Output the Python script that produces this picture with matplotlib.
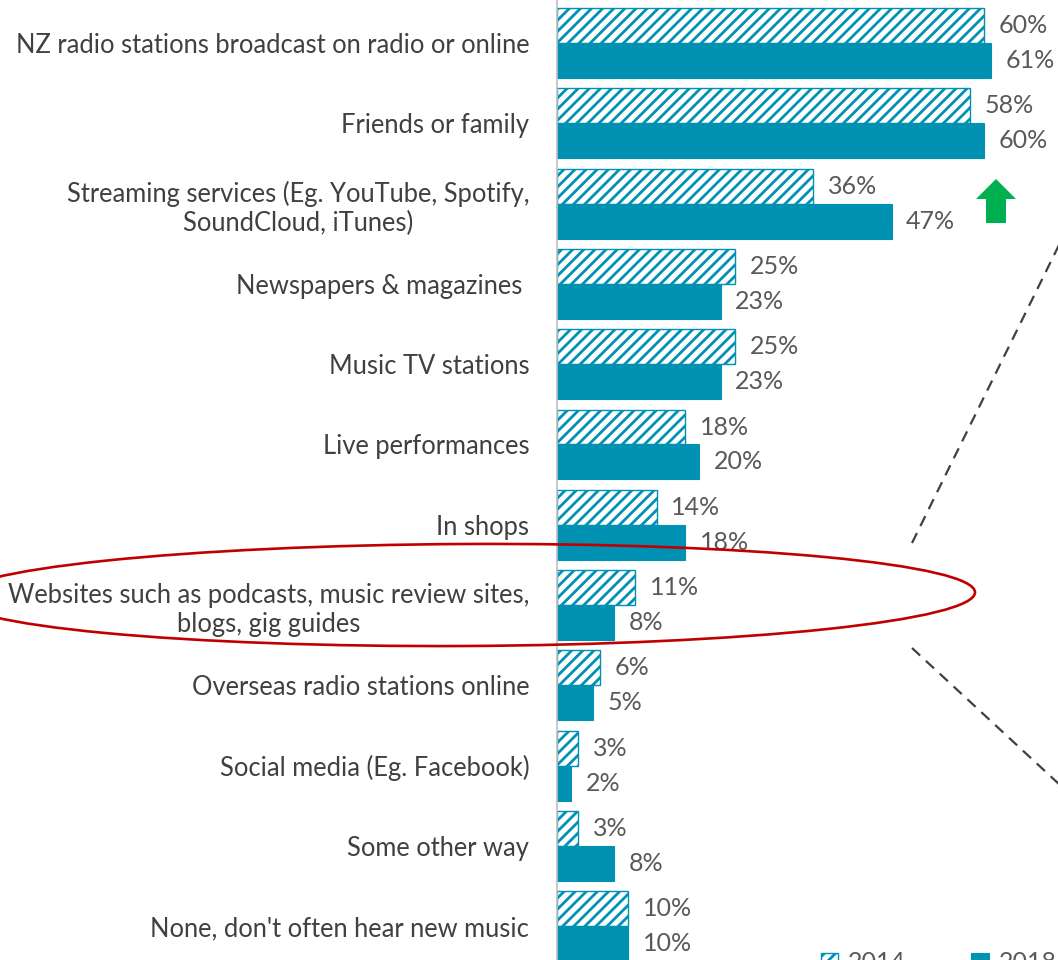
import matplotlib
matplotlib.use("Agg")
import matplotlib.pyplot as plt
from matplotlib.patches import Ellipse, Polygon
from matplotlib.transforms import IdentityTransform
from matplotlib.lines import Line2D

categories = [
    "NZ radio stations broadcast on radio or online",
    "Friends or family",
    "Streaming services (Eg. YouTube, Spotify,\nSoundCloud, iTunes)",
    "Newspapers & magazines ",
    "Music TV stations",
    "Live performances",
    "In shops",
    "Websites such as podcasts, music review sites,\nblogs, gig guides",
    "Overseas radio stations online",
    "Social media (Eg. Facebook)",
    "Some other way",
    "None, don't often hear new music",
]
values_2014 = [60, 58, 36, 25, 25, 18, 14, 11, 6, 3, 3, 10]
values_2018 = [61, 60, 47, 23, 23, 20, 18, 8, 5, 2, 8, 10]
series_names = ["2014", "2018"]

TEAL = "#0091B3"
plt.rcParams["font.family"] = ["Lato", "DejaVu Sans"]
plt.rcParams["hatch.linewidth"] = 2.0
plt.rcParams["hatch.color"] = TEAL

W, H = 1058, 960
fig = plt.figure(figsize=(W / 100, H / 100), dpi=100)
ax = fig.add_axes([557 / W, 0, 1 - 557 / W, 1])

n = len(categories)
y = list(range(n))
bh = 0.435
b1 = ax.barh([v - bh / 2 for v in y], values_2014, height=bh, color="white",
             edgecolor=TEAL, hatch="///", linewidth=1.0, label=series_names[0])
b2 = ax.barh([v + bh / 2 for v in y], values_2018, height=bh, color=TEAL,
             edgecolor=TEAL, linewidth=0.8, label=series_names[1])

ax.set_xlim(0, 501 / 7.12)
ax.set_ylim((H - 43) / 80.3, -43 / 80.3)

for bars, vals in ((b1, values_2014), (b2, values_2018)):
    for rect, v in zip(bars, vals):
        ax.annotate(f"{v}%", (rect.get_width(), rect.get_y() + rect.get_height() / 2),
                    xytext=(10.5, 0), textcoords="offset points", va="center", ha="left",
                    fontsize=18, color="#595959")

ax.set_yticks(y)
ax.set_yticklabels(categories, fontsize=18.4, color="#404040", multialignment="center",
                   linespacing=1.2)
ax.tick_params(axis="y", length=0, pad=20)
ax.set_xticks([])
for s in ("top", "right", "bottom"):
    ax.spines[s].set_visible(False)
ax.spines["left"].set_color("#BFBFBF")
ax.spines["left"].set_linewidth(1.2)

# overlays in pixel coordinates (origin bottom-left)
def py(v):
    return H - v

ell = Ellipse((465, py(595)), 1020, 102, angle=0.3, fill=False, edgecolor="#C00000",
              linewidth=1.9, transform=IdentityTransform(), clip_on=False)
fig.add_artist(ell)

arrow = Polygon([(996, py(179)), (1016, py(199)), (1006, py(199)), (1006, py(223)),
                 (986, py(223)), (986, py(199)), (976, py(199))], closed=True,
                facecolor="#00B050", edgecolor="none", transform=IdentityTransform())
fig.add_artist(arrow)

for (x0, y0), (x1, y1) in (((912, 543), (1060, 243)), ((912, 648), (1060, 785))):
    fig.add_artist(Line2D([x0, x1], [py(y0), py(y1)], color="#404040", linewidth=1.6,
                          linestyle=(0, (5, 3.5)), transform=IdentityTransform()))

fig.legend(handles=[b1, b2], labels=series_names, loc="upper left",
           bbox_to_anchor=(808 / W, 21 / H), ncol=2, frameon=False, fontsize=18,
           borderpad=0, handlelength=0.7, handleheight=0.7, handletextpad=0.4,
           columnspacing=2.6, labelcolor="#595959")

fig.savefig("out.png", dpi=100)
